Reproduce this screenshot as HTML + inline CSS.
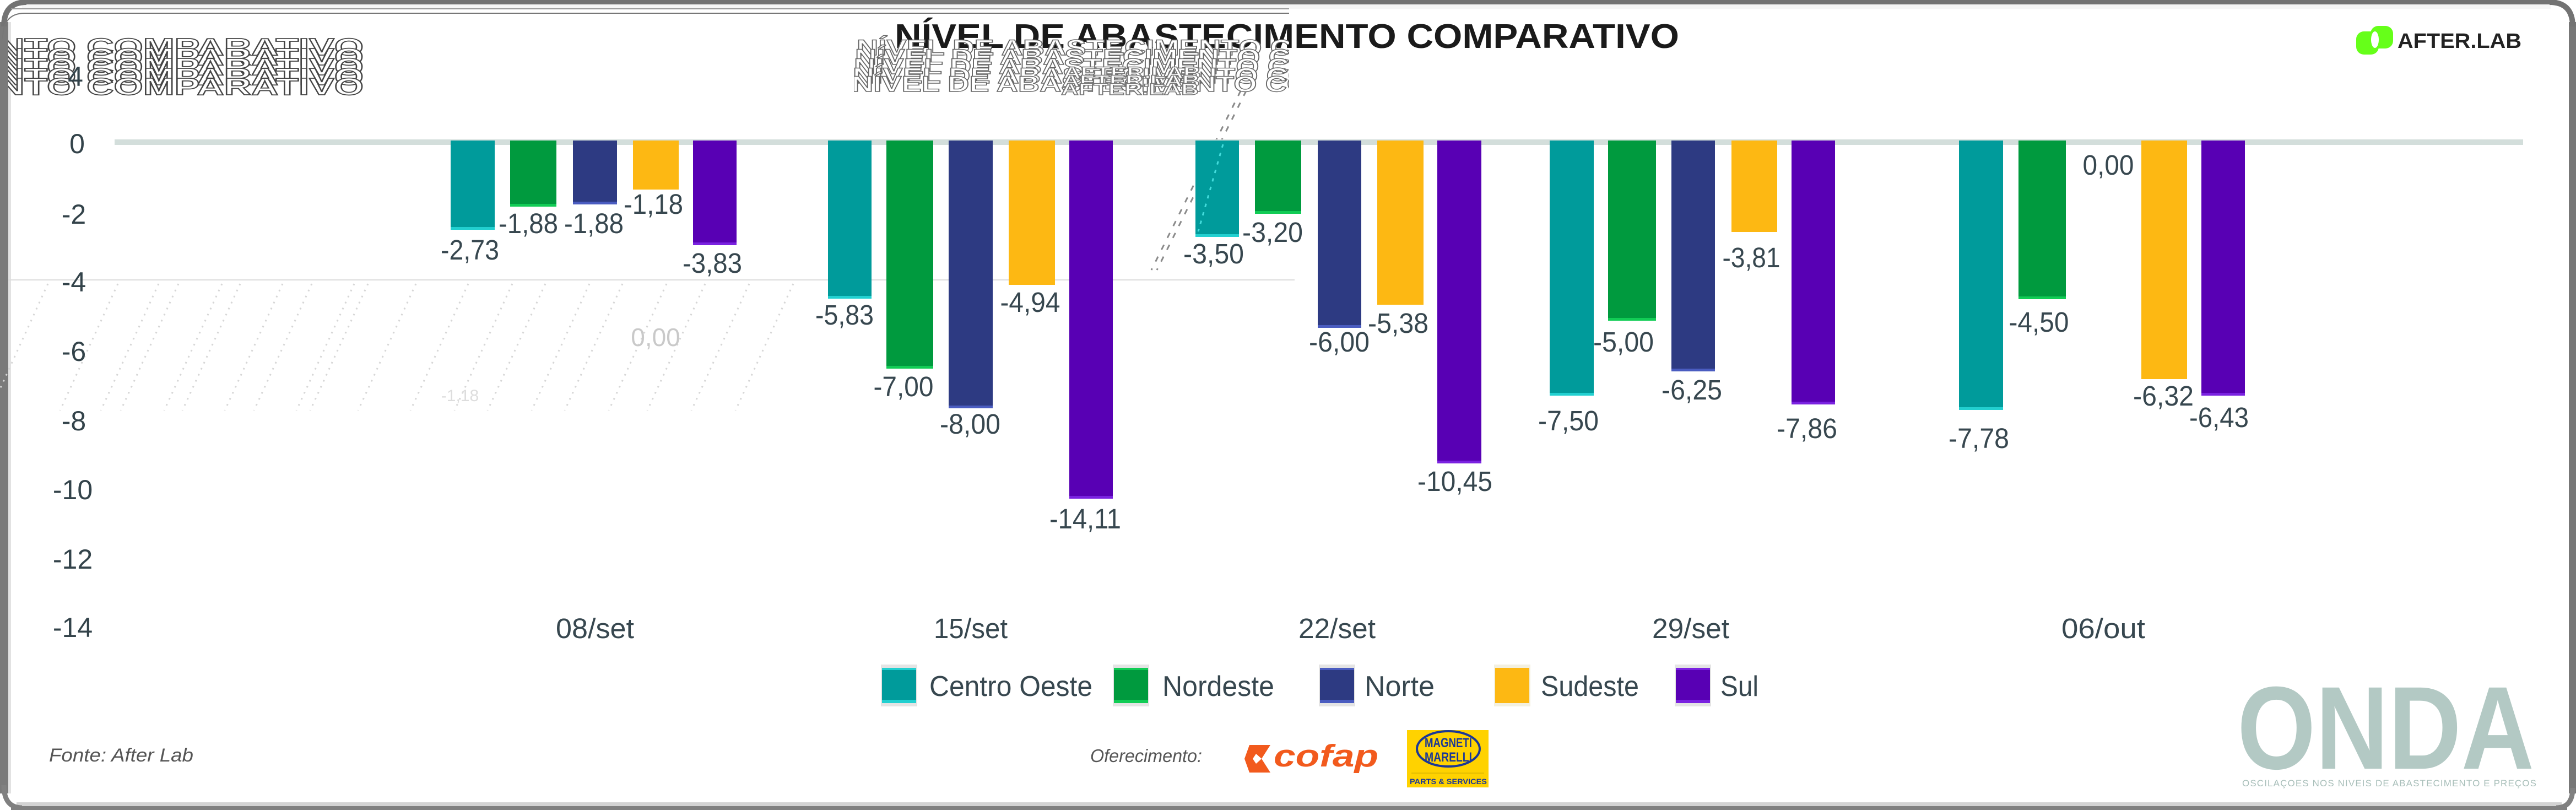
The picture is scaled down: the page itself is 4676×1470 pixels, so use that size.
<!DOCTYPE html>
<html><head><meta charset="utf-8"><style>
html,body{margin:0;padding:0;background:#fff;}
svg{display:block;}
text{font-family:"Liberation Sans",sans-serif;}
</style></head><body>
<svg width="4676" height="1470" viewBox="0 0 4676 1470" xmlns="http://www.w3.org/2000/svg">
<defs>
<clipPath id="cm"><rect x="1550" y="62" width="790" height="115"/></clipPath>
<clipPath id="cl"><rect x="15" y="60" width="680" height="118"/></clipPath>
</defs>
<rect x="0" y="0" width="4676" height="1470" fill="#fff"/>

<!-- border -->
<rect x="40" y="0" width="4596" height="8" fill="#737373"/>
<rect x="40" y="8" width="4590" height="8" fill="#f6f6f6"/>
<rect x="0" y="40" width="15" height="1400" fill="#7a7a7a"/>
<rect x="15" y="40" width="5" height="1400" fill="#e2e2e2"/>
<rect x="4663" y="40" width="13" height="1400" fill="#777"/>
<rect x="30" y="1456" width="4620" height="7" fill="#d3d3d3"/>
<rect x="20" y="1463" width="4640" height="7" fill="#808080"/>
<path d="M7,48 Q7,4 48,4" fill="none" stroke="#737373" stroke-width="10"/>
<path d="M4628,4 Q4670,4 4670,48" fill="none" stroke="#737373" stroke-width="10"/>
<path d="M7,1425 Q7,1466 40,1466" fill="none" stroke="#808080" stroke-width="9"/>
<path d="M4640,1466 Q4670,1466 4670,1430" fill="none" stroke="#808080" stroke-width="9"/>
<line x1="20" y1="16" x2="2340" y2="16" stroke="#999" stroke-width="2"/>
<path d="M5,70 Q5,24 45,24 L2340,24" fill="none" stroke="#777" stroke-width="2"/>

<!-- faint artifacts -->
<g stroke="#d6d6d6" stroke-width="3" stroke-dasharray="3 9">
<line x1="87" y1="515" x2="-18" y2="745"/>
<line x1="214" y1="515" x2="109" y2="745"/>
<line x1="288" y1="515" x2="183" y2="745"/>
<line x1="324" y1="515" x2="219" y2="745"/>
<line x1="403" y1="515" x2="298" y2="745"/>
<line x1="436" y1="515" x2="331" y2="745"/>
<line x1="513" y1="515" x2="408" y2="745"/>
<line x1="566" y1="515" x2="461" y2="745"/>
<line x1="643" y1="515" x2="538" y2="745"/>
<line x1="668" y1="515" x2="563" y2="745"/>
<line x1="755" y1="515" x2="650" y2="745"/>
<line x1="850" y1="515" x2="745" y2="745"/>
<line x1="930" y1="515" x2="825" y2="745"/>
<line x1="990" y1="515" x2="885" y2="745"/>
<line x1="1070" y1="515" x2="965" y2="745"/>
<line x1="1130" y1="515" x2="1025" y2="745"/>
<line x1="1210" y1="515" x2="1105" y2="745"/>
<line x1="1280" y1="515" x2="1175" y2="745"/>
<line x1="1360" y1="515" x2="1255" y2="745"/>
<line x1="1440" y1="515" x2="1335" y2="745"/>
</g>
<line x1="15" y1="508" x2="2350" y2="508" stroke="#dcdcdc" stroke-width="2"/>
<text x="1190" y="628" font-size="46" fill="#c9c9c9" text-anchor="middle">0,00</text>
<text x="835" y="728" font-size="30" fill="#dddddd" text-anchor="middle">-1,18</text>
<g stroke="#8a8a8a" stroke-width="3" stroke-dasharray="10 14">
<line x1="2252" y1="165" x2="2090" y2="490"/>
<line x1="2262" y1="165" x2="2100" y2="490"/>
</g>

<!-- title -->
<text x="1624" y="87" font-size="62" font-weight="bold" fill="#1a1a1a" textLength="1424" lengthAdjust="spacingAndGlyphs">NÍVEL DE ABASTECIMENTO COMPARATIVO</text>

<!-- ghost title copies -->
<g clip-path="url(#cm)" fill="#fff" stroke="#666" stroke-width="1.4" font-weight="bold" font-size="40">
<text x="1555" y="100" textLength="1150" lengthAdjust="spacingAndGlyphs">NÍVEL DE ABASTECIMENTO COMPARATIVO</text>
<text x="1552" y="117" textLength="1150" lengthAdjust="spacingAndGlyphs">NÍVEL DE ABASTECIMENTO COMPARATIVO</text>
<text x="1550" y="134" textLength="1150" lengthAdjust="spacingAndGlyphs">NÍVEL DE ABASTECIMENTO COMPARATIVO</text>
<text x="1548" y="151" textLength="1150" lengthAdjust="spacingAndGlyphs">NÍVEL DE ABASTECIMENTO COMPARATIVO</text>
<text x="1546" y="166" textLength="1150" lengthAdjust="spacingAndGlyphs">NÍVEL DE ABASTECIMENTO COMPARATIVO</text>
</g>
<g fill="#fff" stroke="#777" stroke-width="1.4" font-weight="bold" font-size="30">
<text x="1930" y="142" textLength="250" lengthAdjust="spacingAndGlyphs">AFTER.LAB</text>
<text x="1928" y="157" textLength="250" lengthAdjust="spacingAndGlyphs">AFTER.LAB</text>
<text x="1926" y="172" textLength="250" lengthAdjust="spacingAndGlyphs">AFTER.LAB</text>
</g>
<g clip-path="url(#cl)" fill="#fff" stroke="#444" stroke-width="1.7" font-weight="bold" font-size="44">
<text x="-5" y="100" textLength="665" lengthAdjust="spacingAndGlyphs">NTO COMPARATIVO</text>
<text x="-5" y="118" textLength="665" lengthAdjust="spacingAndGlyphs">NTO COMPARATIVO</text>
<text x="-5" y="136" textLength="665" lengthAdjust="spacingAndGlyphs">NTO COMPARATIVO</text>
<text x="-5" y="154" textLength="665" lengthAdjust="spacingAndGlyphs">NTO COMPARATIVO</text>
<text x="-5" y="172" textLength="665" lengthAdjust="spacingAndGlyphs">NTO COMPARATIVO</text>
</g>

<!-- AfterLab logo -->
<rect x="4277" y="57" width="41" height="42" rx="14" fill="#66ff19"/>
<rect x="4303" y="47" width="41" height="41" rx="14" fill="#66ff19"/>
<ellipse cx="4311" cy="72" rx="7" ry="15" fill="#fff"/>
<text x="4352" y="87" font-size="38" font-weight="bold" fill="#222" textLength="225" lengthAdjust="spacingAndGlyphs">AFTER.LAB</text>

<!-- zero line -->
<rect x="208" y="253" width="4372" height="10" fill="#d3dedb"/>

<!-- y axis labels -->
<g font-size="50" fill="#33434a" text-anchor="middle">
<text x="137" y="156">4</text>
<text x="140" y="278">0</text>
<text x="134" y="406">-2</text>
<text x="134" y="529">-4</text>
<text x="134" y="655">-6</text>
<text x="134" y="781">-8</text>
<text x="132" y="906">-10</text>
<text x="132" y="1032">-12</text>
<text x="132" y="1156">-14</text>
</g>

<!-- bars -->
<g>
<rect x="818" y="255" width="80" height="162" fill="#009b9b"/><rect x="818" y="412" width="80" height="5" fill="#22d0d0"/>
<rect x="926" y="255" width="84" height="120" fill="#009a3e"/><rect x="926" y="370" width="84" height="5" fill="#11cc55"/>
<rect x="1040" y="255" width="80" height="116" fill="#2d3a82"/><rect x="1040" y="366" width="80" height="5" fill="#4a5cc0"/>
<rect x="1149" y="255" width="83" height="89" fill="#fdb813"/>
<rect x="1258" y="255" width="79" height="190" fill="#5800b4"/><rect x="1258" y="440" width="79" height="5" fill="#7a22e0"/>

<rect x="1503" y="255" width="79" height="287" fill="#009b9b"/><rect x="1503" y="537" width="79" height="5" fill="#22d0d0"/>
<rect x="1609" y="255" width="85" height="414" fill="#009a3e"/><rect x="1609" y="664" width="85" height="5" fill="#11cc55"/>
<rect x="1722" y="255" width="80" height="486" fill="#2d3a82"/><rect x="1722" y="736" width="80" height="5" fill="#4a5cc0"/>
<rect x="1831" y="255" width="84" height="262" fill="#fdb813"/>
<rect x="1941" y="255" width="79" height="650" fill="#5800b4"/><rect x="1941" y="900" width="79" height="5" fill="#7a22e0"/>

<rect x="2170" y="255" width="79" height="175" fill="#009b9b"/><rect x="2170" y="425" width="79" height="5" fill="#22d0d0"/>
<rect x="2278" y="255" width="84" height="133" fill="#009a3e"/><rect x="2278" y="383" width="84" height="5" fill="#11cc55"/>
<rect x="2392" y="255" width="79" height="340" fill="#2d3a82"/><rect x="2392" y="590" width="79" height="5" fill="#4a5cc0"/>
<rect x="2500" y="255" width="84" height="298" fill="#fdb813"/>
<rect x="2609" y="255" width="80" height="586" fill="#5800b4"/><rect x="2609" y="836" width="80" height="5" fill="#7a22e0"/>

<rect x="2813" y="255" width="80" height="463" fill="#009b9b"/><rect x="2813" y="713" width="80" height="5" fill="#22d0d0"/>
<rect x="2919" y="255" width="87" height="327" fill="#009a3e"/><rect x="2919" y="577" width="87" height="5" fill="#11cc55"/>
<rect x="3034" y="255" width="79" height="419" fill="#2d3a82"/><rect x="3034" y="669" width="79" height="5" fill="#4a5cc0"/>
<rect x="3143" y="255" width="83" height="166" fill="#fdb813"/>
<rect x="3252" y="255" width="79" height="479" fill="#5800b4"/><rect x="3252" y="729" width="79" height="5" fill="#7a22e0"/>

<rect x="3556" y="255" width="80" height="489" fill="#009b9b"/><rect x="3556" y="739" width="80" height="5" fill="#22d0d0"/>
<rect x="3664" y="255" width="86" height="288" fill="#009a3e"/><rect x="3664" y="538" width="86" height="5" fill="#11cc55"/>
<rect x="3887" y="255" width="83" height="433" fill="#fdb813"/>
<rect x="3996" y="255" width="79" height="463" fill="#5800b4"/><rect x="3996" y="713" width="79" height="5" fill="#7a22e0"/>
</g>

<g stroke="#44dddd" stroke-width="3" stroke-dasharray="6 10">
<line x1="2220" y1="262" x2="2175" y2="420"/>
</g>

<!-- data labels -->
<g font-size="51" fill="#37474f" text-anchor="middle">
<text x="853" y="471" textLength="106" lengthAdjust="spacingAndGlyphs">-2,73</text>
<text x="959" y="423" textLength="108" lengthAdjust="spacingAndGlyphs">-1,88</text>
<text x="1078" y="423" textLength="108" lengthAdjust="spacingAndGlyphs">-1,88</text>
<text x="1186" y="388" textLength="108" lengthAdjust="spacingAndGlyphs">-1,18</text>
<text x="1293" y="495" textLength="108" lengthAdjust="spacingAndGlyphs">-3,83</text>

<text x="1533" y="589" textLength="106" lengthAdjust="spacingAndGlyphs">-5,83</text>
<text x="1640" y="719" textLength="109" lengthAdjust="spacingAndGlyphs">-7,00</text>
<text x="1761" y="787" textLength="110" lengthAdjust="spacingAndGlyphs">-8,00</text>
<text x="1870" y="566" textLength="109" lengthAdjust="spacingAndGlyphs">-4,94</text>
<text x="1970" y="959" textLength="130" lengthAdjust="spacingAndGlyphs">-14,11</text>

<text x="2203" y="478" textLength="110" lengthAdjust="spacingAndGlyphs">-3,50</text>
<text x="2310" y="439" textLength="110" lengthAdjust="spacingAndGlyphs">-3,20</text>
<text x="2431" y="638" textLength="110" lengthAdjust="spacingAndGlyphs">-6,00</text>
<text x="2538" y="604" textLength="110" lengthAdjust="spacingAndGlyphs">-5,38</text>
<text x="2641" y="891" textLength="136" lengthAdjust="spacingAndGlyphs">-10,45</text>

<text x="2847" y="781" textLength="110" lengthAdjust="spacingAndGlyphs">-7,50</text>
<text x="2947" y="638" textLength="110" lengthAdjust="spacingAndGlyphs">-5,00</text>
<text x="3071" y="725" textLength="110" lengthAdjust="spacingAndGlyphs">-6,25</text>
<text x="3179" y="485" textLength="105" lengthAdjust="spacingAndGlyphs">-3,81</text>
<text x="3280" y="795" textLength="110" lengthAdjust="spacingAndGlyphs">-7,86</text>

<text x="3592" y="813" textLength="110" lengthAdjust="spacingAndGlyphs">-7,78</text>
<text x="3701" y="602" textLength="109" lengthAdjust="spacingAndGlyphs">-4,50</text>
<text x="3827" y="317" textLength="93" lengthAdjust="spacingAndGlyphs">0,00</text>
<text x="3927" y="736" textLength="110" lengthAdjust="spacingAndGlyphs">-6,32</text>
<text x="4028" y="775" textLength="108" lengthAdjust="spacingAndGlyphs">-6,43</text>
</g>

<!-- x axis labels -->
<g font-size="51" fill="#37474f" text-anchor="middle">
<text x="1080" y="1158" textLength="142" lengthAdjust="spacingAndGlyphs">08/set</text>
<text x="1762" y="1158" textLength="134" lengthAdjust="spacingAndGlyphs">15/set</text>
<text x="2427" y="1158" textLength="140" lengthAdjust="spacingAndGlyphs">22/set</text>
<text x="3069" y="1158" textLength="140" lengthAdjust="spacingAndGlyphs">29/set</text>
<text x="3818" y="1158" textLength="152" lengthAdjust="spacingAndGlyphs">06/out</text>
</g>

<!-- legend -->
<g>
<rect x="1599" y="1206" width="66" height="76" fill="#e4e4e4"/>
<rect x="1601" y="1212" width="62" height="64" fill="#009b9b"/><rect x="1601" y="1212" width="62" height="4" fill="#22d0d0"/><rect x="1601" y="1270" width="62" height="6" fill="#22d0d0"/>
<rect x="2020" y="1206" width="66" height="76" fill="#e4e4e4"/>
<rect x="2022" y="1212" width="62" height="64" fill="#009a3e"/><rect x="2022" y="1212" width="62" height="4" fill="#11cc55"/><rect x="2022" y="1270" width="62" height="6" fill="#11cc55"/>
<rect x="2394" y="1206" width="66" height="76" fill="#e4e4e4"/>
<rect x="2396" y="1212" width="62" height="64" fill="#2d3a82"/><rect x="2396" y="1212" width="62" height="4" fill="#4a5cc0"/><rect x="2396" y="1270" width="62" height="6" fill="#4a5cc0"/>
<rect x="2712" y="1206" width="66" height="76" fill="#f3f0e0"/>
<rect x="2714" y="1212" width="62" height="64" fill="#fdb813"/>
<rect x="3040" y="1206" width="66" height="76" fill="#e4e4e4"/>
<rect x="3042" y="1212" width="62" height="64" fill="#5800b4"/><rect x="3042" y="1212" width="62" height="4" fill="#7a22e0"/><rect x="3042" y="1270" width="62" height="6" fill="#7a22e0"/>
</g>
<g font-size="52" fill="#37474f">
<text x="1687" y="1263" textLength="296" lengthAdjust="spacingAndGlyphs">Centro Oeste</text>
<text x="2110" y="1263" textLength="203" lengthAdjust="spacingAndGlyphs">Nordeste</text>
<text x="2477" y="1263" textLength="127" lengthAdjust="spacingAndGlyphs">Norte</text>
<text x="2797" y="1263" textLength="178" lengthAdjust="spacingAndGlyphs">Sudeste</text>
<text x="3123" y="1263" textLength="69" lengthAdjust="spacingAndGlyphs">Sul</text>
</g>

<!-- footer -->
<text x="89" y="1382" font-size="34" font-style="italic" fill="#555" textLength="262" lengthAdjust="spacingAndGlyphs">Fonte: After Lab</text>
<text x="1979" y="1383" font-size="33" font-style="italic" fill="#555" textLength="203" lengthAdjust="spacingAndGlyphs">Oferecimento:</text>

<!-- cofap -->
<polygon points="2268,1352 2306,1352 2290,1377 2306,1402 2268,1402 2259,1377" fill="#f25a1d"/>
<polygon points="2280,1368 2290,1377 2280,1386 2274,1377" fill="#fff"/>
<text x="2312" y="1391" font-size="57" font-weight="bold" font-style="italic" fill="#f25a1d" textLength="190" lengthAdjust="spacingAndGlyphs">cofap</text>

<!-- Magneti Marelli -->
<rect x="2554" y="1325" width="148" height="104" fill="#ffd200"/>
<ellipse cx="2629" cy="1359" rx="57" ry="32" fill="none" stroke="#1b3796" stroke-width="4"/>
<text x="2629" y="1356" font-size="24" font-weight="bold" fill="#1b3796" text-anchor="middle" textLength="86" lengthAdjust="spacingAndGlyphs">MAGNETI</text>
<text x="2629" y="1382" font-size="24" font-weight="bold" fill="#1b3796" text-anchor="middle" textLength="86" lengthAdjust="spacingAndGlyphs">MARELLI</text>
<line x1="2562" y1="1403" x2="2694" y2="1403" stroke="#c9a800" stroke-width="1"/>
<text x="2629" y="1423" font-size="14" font-weight="bold" fill="#1b3796" text-anchor="middle" textLength="140" lengthAdjust="spacingAndGlyphs">PARTS &amp; SERVICES</text>

<!-- ONDA -->
<text x="4061" y="1395" font-size="214" font-weight="bold" fill="#b3c9c4" textLength="539" lengthAdjust="spacingAndGlyphs">ONDA</text>
<text x="4070" y="1427" font-size="17" fill="#a9bfba" textLength="534" lengthAdjust="spacing">OSCILAÇOES NOS NIVEIS DE ABASTECIMENTO E PREÇOS</text>
</svg>
</body></html>
